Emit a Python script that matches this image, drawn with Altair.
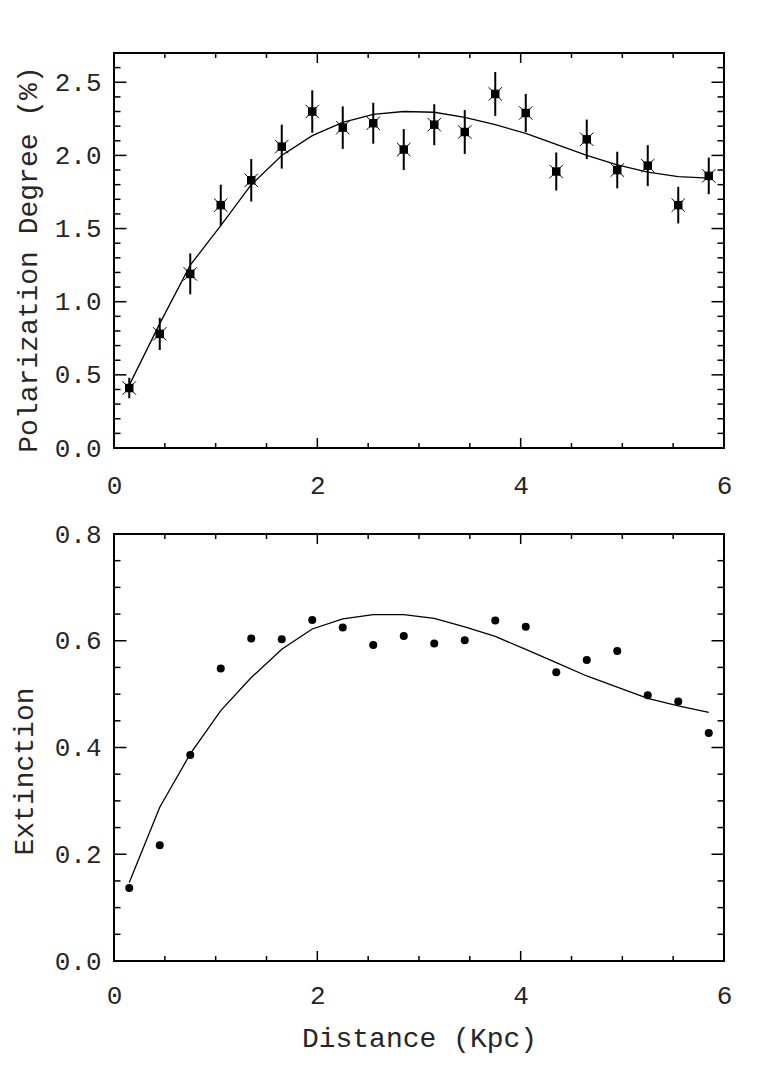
import altair as alt
import pandas as pd

FONT = "Liberation Mono"
TXT = "#262626"

# ---- data ----
dist = [0.15, 0.45, 0.75, 1.05, 1.35, 1.65, 1.95, 2.25, 2.55, 2.85,
        3.15, 3.45, 3.75, 4.05, 4.35, 4.65, 4.95, 5.25, 5.55, 5.85]
pol = [0.41, 0.78, 1.19, 1.66, 1.83, 2.06, 2.30, 2.19, 2.22, 2.04,
       2.21, 2.16, 2.42, 2.29, 1.89, 2.11, 1.90, 1.93, 1.66, 1.86]
pol_err = [0.07, 0.11, 0.14, 0.14, 0.145, 0.15, 0.145, 0.145, 0.14, 0.14,
           0.14, 0.15, 0.15, 0.13, 0.13, 0.135, 0.125, 0.14, 0.125, 0.125]
pol_fit = [0.43, 0.85, 1.25, 1.52, 1.80, 2.00, 2.135, 2.225, 2.28, 2.30,
           2.295, 2.26, 2.21, 2.15, 2.075, 2.00, 1.935, 1.885, 1.855, 1.845]
ext = [0.137, 0.217, 0.386, 0.548, 0.604, 0.603, 0.639, 0.625, 0.592, 0.609,
       0.595, 0.601, 0.638, 0.626, 0.541, 0.564, 0.581, 0.498, 0.486, 0.427]
ext_fit = [0.147, 0.288, 0.388, 0.469, 0.531, 0.584, 0.622, 0.641, 0.649, 0.649,
           0.642, 0.626, 0.608, 0.584, 0.559, 0.534, 0.513, 0.492, 0.478, 0.466]

x_major = [0, 2, 4, 6]
x_minor = [0.5, 1.0, 1.5, 2.5, 3.0, 3.5, 4.5, 5.0, 5.5]
pol_major = [0.0, 0.5, 1.0, 1.5, 2.0, 2.5]
pol_minor = [0.1, 0.2, 0.3, 0.4, 0.6, 0.7, 0.8, 0.9, 1.1, 1.2, 1.3, 1.4,
             1.6, 1.7, 1.8, 1.9, 2.1, 2.2, 2.3, 2.4, 2.6]
ext_major = [0.0, 0.2, 0.4, 0.6, 0.8]
ext_minor = [0.05, 0.1, 0.15, 0.25, 0.3, 0.35, 0.45, 0.5, 0.55, 0.65, 0.7, 0.75]

W = 610
H_TOP = 395
H_BOT = 427

pol_df = pd.DataFrame({"d": dist, "v": pol, "e": pol_err, "f": pol_fit})
pol_df["lo"] = pol_df["v"] - pol_df["e"]
pol_df["hi"] = pol_df["v"] + pol_df["e"]
ext_df = pd.DataFrame({"d": dist, "v": ext, "f": ext_fit})


def tick_layers(xs, ys, h, x_major_len, x_minor_len):
    layers = []
    for vals, ln in ((x_major, x_major_len), (x_minor, x_minor_len)):
        df = pd.DataFrame({"t": vals})
        for y0, y1 in ((h, h - ln), (0, ln)):
            layers.append(
                alt.Chart(df).mark_rule(color="black", strokeWidth=1.5).encode(
                    x=alt.X("t:Q", scale=xs),
                    y=alt.value(y0), y2=alt.value(y1)))
    for spec, ln in ys:
        df = pd.DataFrame({"t": spec["vals"]})
        for x0, x1 in ((0, ln), (W, W - ln)):
            layers.append(
                alt.Chart(df).mark_rule(color="black", strokeWidth=1.5).encode(
                    y=alt.Y("t:Q", scale=spec["scale"]),
                    x=alt.value(x0), x2=alt.value(x1)))
    return layers


xs = alt.Scale(domain=[0, 6], nice=False, zero=False)
ys_top = alt.Scale(domain=[0, 2.7], nice=False, zero=False)
ys_bot = alt.Scale(domain=[0, 0.8], nice=False, zero=False)


def xaxis(title, pad, title_y=0):
    kw = dict(values=x_major, format="d", ticks=False, tickSize=0, domain=False,
              grid=False, labelFont=FONT, labelFontSize=26, labelColor=TXT,
              labelPadding=pad, labelFlush=False)
    if title:
        kw.update(title=title, titleFont=FONT, titleFontSize=28,
                  titleFontWeight="normal", titleColor=TXT,
                  titleBaseline="alphabetic", titleY=title_y, titleX=W / 2)
    else:
        kw.update(title="")
    return alt.Axis(**kw)


def yaxis(values, title, tx, ty):
    return alt.Axis(values=values, format=".1f", ticks=False, tickSize=0,
                    domain=False, grid=False, labelFont=FONT, labelFontSize=26,
                    labelColor=TXT, labelPadding=13, labelFlush=False,
                    labelBaseline="middle",
                    title=title, titleFont=FONT, titleFontSize=28,
                    titleFontWeight="normal", titleColor=TXT,
                    titleBaseline="alphabetic", titleX=tx, titleY=ty,
                    titleAngle=270)


# ---- top panel ----
top_line = alt.Chart(pol_df).mark_line(color="black", strokeWidth=1.3).encode(
    x=alt.X("d:Q", scale=xs, axis=xaxis(None, 24)),
    y=alt.Y("f:Q", scale=ys_top,
            axis=yaxis(pol_major, "Polarization Degree (%)", -78, 206)))
top_err = alt.Chart(pol_df).mark_rule(color="black", strokeWidth=2).encode(
    x=alt.X("d:Q", scale=xs),
    y=alt.Y("lo:Q", scale=ys_top), y2="hi:Q")
top_sq = alt.Chart(pol_df).mark_point(shape="square", filled=True, size=72,
                                      color="black", opacity=1).encode(
    x=alt.X("d:Q", scale=xs),
    y=alt.Y("v:Q", scale=ys_top))
top_x = alt.Chart(pol_df).mark_point(shape="M-1,-1L1,1M-1,1L1,-1", filled=False,
                                     size=180, color="black", strokeWidth=1,
                                     opacity=1).encode(
    x=alt.X("d:Q", scale=xs),
    y=alt.Y("v:Q", scale=ys_top))
top_ticks = tick_layers(xs, [({"vals": pol_major, "scale": ys_top}, 12.5),
                             ({"vals": pol_minor, "scale": ys_top}, 6.5)],
                        H_TOP, 10, 5)
top = alt.layer(top_line, top_err, top_sq, top_x, *top_ticks).properties(
    width=W, height=H_TOP)

# ---- bottom panel ----
bot_line = alt.Chart(ext_df).mark_line(color="black", strokeWidth=1.3).encode(
    x=alt.X("d:Q", scale=xs, axis=xaxis("Distance (Kpc)", 21, 85)),
    y=alt.Y("f:Q", scale=ys_bot, axis=yaxis(ext_major, "Extinction", -82, 237)))
bot_pts = alt.Chart(ext_df).mark_circle(size=64, color="black", opacity=1).encode(
    x=alt.X("d:Q", scale=xs),
    y=alt.Y("v:Q", scale=ys_bot))
bot_ticks = tick_layers(xs, [({"vals": ext_major, "scale": ys_bot}, 12.5),
                             ({"vals": ext_minor, "scale": ys_bot}, 6.5)],
                        H_BOT, 10, 5)
bot = alt.layer(bot_line, bot_pts, *bot_ticks).properties(width=W, height=H_BOT)

chart = alt.vconcat(top, bot, spacing=86, bounds="flush").properties(
    padding={"left": 1, "top": 43, "right": 5, "bottom": 5},
    background="white",
).configure_view(stroke="black", strokeWidth=2)

chart.save("out.html", embed_options={"renderer": "svg", "actions": False})
